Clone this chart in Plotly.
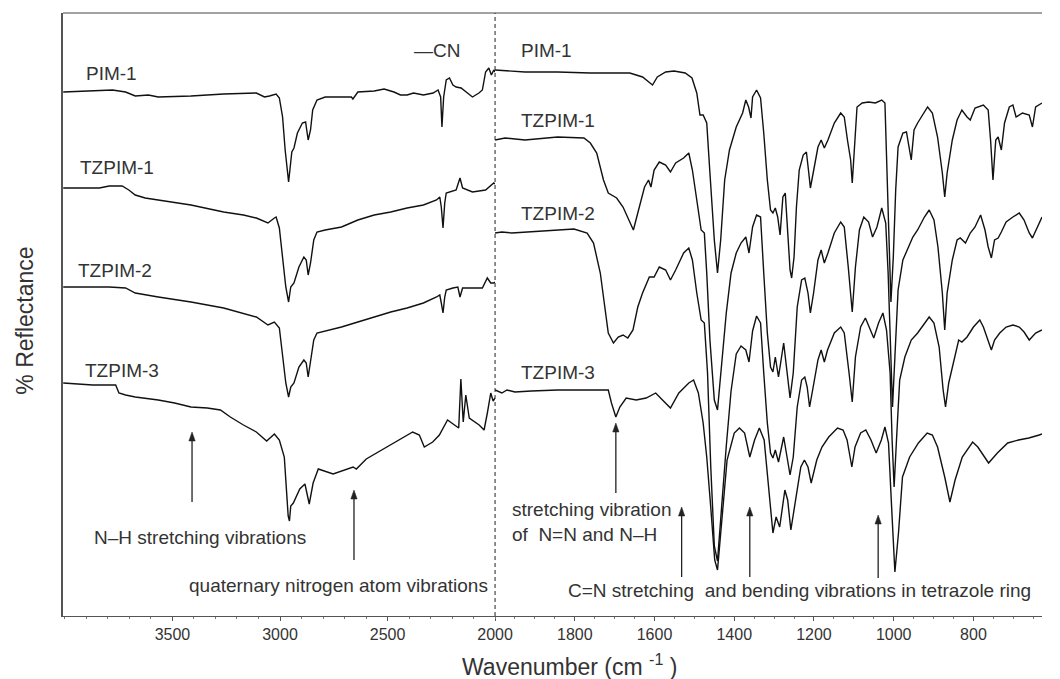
import plotly.graph_objects as go

# ---------------- data (wavenumber cm-1, reflectance with offsets) ----------------
PIM1_LEFT = [(4008,524),(3871,525),(3779,526),(3718,524),(3673,520),(3612,521),(3566,519),(3414,520),
             (3262,522),(3110,523),(3072,519),(3049,520),(3018,522),(3003,518),(2988,499),(2976,466),
             (2965,446),(2960,434),(2954,446),(2945,464),(2935,468),(2919,483),(2896,493),(2881,494),
             (2869,476),(2858,486),(2848,506),(2828,516),(2790,519),(2668,519),(2661,517),(2638,524),
             (2562,525),(2516,527),(2470,524),(2440,521),(2409,521),(2379,523),(2333,521),(2288,523),
             (2265,526),(2253,519),(2247,489),(2239,519),(2227,536),(2212,538),(2196,531),(2181,529),
             (2158,528),(2135,524),(2105,519),(2075,523),(2059,526),(2044,544),(2029,548),(2017,541),
             (2006,546),(2000,544)]
TZPIM1_LEFT = [(4008,428),(3840,428),(3794,430),(3734,430),(3703,426),(3673,421),(3627,418),(3566,416),
               (3414,411),(3262,404),(3170,401),(3110,398),(3056,393),(3026,398),(3018,399),(3003,388),
               (2988,360),(2973,329),(2960,314),(2950,329),(2935,333),(2912,349),(2889,359),(2878,356),
               (2869,341),(2858,353),(2843,376),(2828,384),(2790,386),(2714,389),(2638,396),(2562,401),
               (2485,404),(2409,408),(2333,411),(2272,416),(2257,419),(2250,409),(2242,388),(2234,413),
               (2227,423),(2181,426),(2163,438),(2151,428),(2105,424),(2044,426),(2006,433),(2000,432)]
TZPIM2_LEFT = [(4008,329),(3794,329),(3718,328),(3673,323),(3566,319),(3414,314),(3262,308),(3110,299),
               (3056,291),(3026,294),(3003,288),(2988,259),(2973,233),(2960,219),(2950,229),(2935,233),
               (2912,249),(2889,256),(2878,253),(2869,239),(2858,253),(2843,276),(2828,283),(2714,289),
               (2638,294),(2562,299),(2485,304),(2409,308),(2333,313),(2272,319),(2257,321),(2250,313),
               (2242,303),(2234,319),(2227,326),(2196,328),(2173,329),(2163,319),(2151,328),(2105,328),
               (2059,328),(2036,338),(2020,333),(2006,333),(2000,334)]
TZPIM3_LEFT = [(4008,233),(3871,231),(3764,231),(3749,223),(3718,221),(3673,219),(3566,216),(3490,213),
               (3414,209),(3338,208),(3277,206),(3231,199),(3170,191),(3110,184),(3062,175),(3026,182),
               (3003,176),(2980,159),(2962,100),(2956,95),(2950,110),(2938,113),(2908,127),(2884,132),
               (2864,112),(2846,133),(2822,147),(2753,142),(2660,149),(2645,147),(2599,157),(2521,167),
               (2444,177),(2383,184),(2352,181),(2329,169),(2290,174),(2259,181),(2221,196),(2189,191),
               (2169,188),(2159,237),(2148,194),(2136,221),(2120,198),(2074,191),(2051,186),(2035,204),
               (2020,223),(2009,215),(2000,218)]

PIM1_RIGHT = [(2000,546),(1925,544),(1843,544),(1761,543),(1662,543),(1630,539),(1605,531),(1593,539),
              (1572,544),(1551,545),(1523,543),(1506,538),(1494,523),(1486,501),(1478,501),(1469,493),
              (1461,443),(1450,376),(1442,343),(1434,376),(1424,436),(1412,466),(1395,489),(1379,503),
              (1371,516),(1364,509),(1358,498),(1354,519),(1344,526),(1334,518),(1326,483),(1317,436),
              (1309,406),(1303,403),(1297,408),(1291,399),(1285,381),(1278,419),(1272,423),(1267,389),
              (1260,346),(1256,338),(1250,359),(1244,409),(1237,446),(1227,461),(1219,464),(1213,443),
              (1209,428),(1202,443),(1190,469),(1182,476),(1174,468),(1165,476),(1149,493),(1133,503),
              (1124,499),(1116,476),(1108,456),(1104,433),(1097,476),(1092,509),(1079,513),(1063,514),
              (1046,513),(1030,516),(1022,513),(1017,443),(1012,359),(1007,314),(1001,359),(995,426),
              (989,469),(977,483),(968,484),(960,466),(956,456),(949,486),(940,493),(915,509),(903,503),
              (890,479),(878,443),(872,419),(866,443),(853,476),(841,496),(829,506),(816,499),(808,496),
              (796,508),(775,511),(763,506),(757,476),(751,436),(744,476),(738,479),(730,466),(722,493),
              (710,509),(701,511),(693,499),(677,503),(660,501),(652,489),(644,509),(628,513)]
TZPIM1_RIGHT = [(2000,476),(1975,478),(1925,476),(1843,479),(1777,478),(1761,473),(1745,463),(1728,436),
                (1716,423),(1695,418),(1679,409),(1662,393),(1653,386),(1642,403),(1625,429),(1615,436),
                (1609,429),(1601,446),(1588,454),(1572,451),(1560,444),(1547,453),(1527,458),(1514,463),
                (1505,446),(1494,416),(1483,386),(1475,383),(1469,343),(1461,276),(1450,216),(1442,206),
                (1432,249),(1420,303),(1408,343),(1395,363),(1383,373),(1371,379),(1363,363),(1354,389),
                (1344,401),(1334,399),(1326,343),(1317,283),(1309,249),(1303,244),(1297,259),(1289,239),
                (1276,273),(1267,243),(1260,218),(1252,243),(1242,309),(1231,336),(1223,338),(1215,323),
                (1209,303),(1201,323),(1190,356),(1182,366),(1174,353),(1165,363),(1149,383),(1133,394),
                (1124,389),(1114,349),(1104,304),(1096,349),(1086,386),(1075,399),(1063,394),(1053,379),
                (1042,389),(1030,408),(1020,393),(1014,343),(1007,259),(1003,209),(997,259),(989,326),
                (977,356),(964,369),(952,379),(940,386),(923,399),(911,406),(899,396),(889,369),(878,323),
                (872,286),(866,323),(853,356),(841,376),(833,378),(820,373),(808,383),(796,389),(782,401),
                (771,386),(763,369),(755,358),(747,376),(738,378),(730,384),(718,394),(701,399),(685,403),
                (673,396),(660,383),(652,378),(640,389),(628,399)]
TZPIM2_RIGHT = [(2000,383),(1983,384),(1958,383),(1884,385),(1802,387),(1769,383),(1753,373),(1736,343),
                (1724,309),(1716,283),(1703,273),(1691,279),(1679,281),(1667,278),(1654,286),(1642,309),
                (1630,323),(1613,339),(1601,339),(1588,349),(1572,346),(1560,336),(1547,346),(1527,363),
                (1514,368),(1505,356),(1494,323),(1483,296),(1475,293),(1467,243),(1459,150),(1450,70),
                (1442,55),(1432,110),(1420,170),(1408,225),(1395,262),(1383,270),(1371,266),(1363,254),
                (1354,285),(1344,300),(1334,293),(1326,243),(1317,193),(1309,163),(1303,158),(1297,166),
                (1289,154),(1276,179),(1267,159),(1260,141),(1252,159),(1242,209),(1231,236),(1223,239),
                (1217,229),(1211,209),(1202,229),(1190,256),(1182,266),(1174,254),(1166,266),(1149,283),
                (1133,289),(1124,283),(1112,243),(1104,214),(1096,259),(1083,289),(1071,298),(1059,286),
                (1050,278),(1038,293),(1027,303),(1018,286),(1009,243),(1004,176),(999,129),(993,176),
                (985,236),(972,259),(956,276),(940,283),(923,293),(911,299),(899,293),(886,269),(876,226),
                (870,209),(862,233),(849,256),(837,276),(829,274),(816,279),(800,289),(784,296),(775,289),
                (763,276),(755,266),(747,276),(734,283),(718,289),(701,291),(685,289),(673,284),(660,276),
                (644,283),(628,286)]
TZPIM3_RIGHT = [(2000,226),(1983,223),(1970,226),(1950,224),(1909,225),(1843,226),(1716,226),(1708,213),
                (1697,199),(1687,209),(1671,218),(1646,216),(1621,218),(1597,223),(1580,216),(1560,208),
                (1539,223),(1514,233),(1502,236),(1490,223),(1478,193),(1469,159),(1459,109),(1449,56),
                (1442,46),(1431,99),(1418,156),(1400,183),(1387,188),(1374,183),(1361,159),(1349,176),
                (1337,188),(1325,176),(1312,116),(1303,83),(1295,99),(1286,89),(1273,126),(1266,116),
                (1258,86),(1246,116),(1233,149),(1224,156),(1215,149),(1207,133),(1193,156),(1180,169),
                (1163,179),(1141,188),(1127,186),(1117,176),(1105,149),(1097,169),(1083,183),(1070,186),
                (1057,176),(1044,163),(1031,176),(1022,189),(1013,173),(1004,99),(997,44),(988,83),
                (978,139),(960,159),(938,173),(916,183),(903,181),(890,169),(872,139),(859,114),(846,136),
                (828,159),(811,169),(802,174),(789,169),(771,159),(762,153),(740,163),(714,173),(687,176),
                (661,178),(635,181),(628,182)]

SERIES = [("PIM-1", PIM1_LEFT, PIM1_RIGHT),
          ("TZPIM-1", TZPIM1_LEFT, TZPIM1_RIGHT),
          ("TZPIM-2", TZPIM2_LEFT, TZPIM2_RIGHT),
          ("TZPIM-3", TZPIM3_LEFT, TZPIM3_RIGHT)]

LEFT_TICKS = [3500, 3000, 2500, 2000]
RIGHT_TICKS = [1800, 1600, 1400, 1200, 1000, 800]

# ---------------- figure ----------------
FONT = "Liberation Sans, Arial, sans-serif"
LINE = dict(color="#111111", width=1.4)
SPLIT = 440 / 997
LEFT_RANGE = [4009, 2000]
RIGHT_RANGE = [2000, 628]

fig = go.Figure()
for name, left, right in SERIES:
    fig.add_trace(go.Scatter(x=[p[0] for p in left], y=[p[1] for p in left], mode="lines",
                             line=LINE, name=name, xaxis="x", yaxis="y", hoverinfo="skip"))
    fig.add_trace(go.Scatter(x=[p[0] for p in right], y=[p[1] for p in right], mode="lines",
                             line=LINE, name=name, xaxis="x2", yaxis="y", hoverinfo="skip"))

axis_common = dict(showgrid=False, zeroline=False, showline=True, linecolor="#555", linewidth=1,
                   ticks="outside", ticklen=4, tickcolor="#555",
                   tickfont=dict(family=FONT, size=16, color="#333"))

fig.update_layout(
    width=1060, height=679,
    margin=dict(l=63, r=0, t=13, b=63),
    plot_bgcolor="white", paper_bgcolor="white", showlegend=False,
    xaxis=dict(domain=[0, SPLIT], range=LEFT_RANGE, tickmode="array", tickvals=LEFT_TICKS,
               minor=dict(tickmode="linear", tick0=0, dtick=100, ticks="outside", ticklen=2, tickcolor="#777"),
               anchor="y", **axis_common),
    xaxis2=dict(domain=[SPLIT, 1], range=RIGHT_RANGE, tickmode="array", tickvals=RIGHT_TICKS,
                minor=dict(tickmode="linear", tick0=0, dtick=50, ticks="outside", ticklen=2, tickcolor="#777"),
                anchor="y", **axis_common),
    yaxis=dict(range=[0, 603], showticklabels=False, ticks="", showgrid=False, zeroline=False,
               showline=True, linecolor="#555", linewidth=1.6),
)

# frame top and dashed divider
fig.add_shape(type="line", xref="paper", yref="paper", x0=0, x1=1, y0=1, y1=1,
              line=dict(color="#444", width=1))
fig.add_shape(type="line", xref="paper", yref="paper", x0=SPLIT, x1=SPLIT, y0=0, y1=1,
              line=dict(color="#222", width=1, dash="4px,3px"))

TXT = dict(family=FONT, size=19, color="#333")
labels = [
    ("x", 3913, 543, "PIM-1"), ("x", 3941, 449, "TZPIM-1"), ("x", 3950, 346, "TZPIM-2"),
    ("x", 3918, 246, "TZPIM-3"), ("x", 2388, 566, "\u2014CN"),
    ("x2", 1941, 566, "PIM-1"), ("x2", 1941, 496, "TZPIM-1"), ("x2", 1941, 403, "TZPIM-2"),
    ("x2", 1941, 244, "TZPIM-3"),
]
for xr, xv, yv, t in labels:
    fig.add_annotation(xref=xr, yref="y", x=xv, y=yv, text=t, showarrow=False,
                       xanchor="left", yanchor="middle", font=TXT)

fig.add_annotation(xref="x", yref="y", x=3374, y=79, text="N\u2013H stretching vibrations",
                   showarrow=False, xanchor="center", yanchor="middle", font=TXT)
fig.add_annotation(xref="x", yref="y", x=2726, y=31, text="quaternary nitrogen atom vibrations",
                   showarrow=False, xanchor="center", yanchor="middle", font=TXT)
fig.add_annotation(xref="x2", yref="y", x=1963, y=94,
                   text="stretching vibration<br>of \u00a0N=N and N\u2013H", align="left",
                   showarrow=False, xanchor="left", yanchor="middle", font=TXT)
fig.add_annotation(xref="x2", yref="y", x=1823, y=26,
                   text="C=N stretching \u00a0and bending vibrations in tetrazole ring",
                   showarrow=False, xanchor="left", yanchor="middle", font=TXT)

# vertical arrows (shaft + filled head), drawn as shapes
PX_PER_UNIT = {"x": 440 / (LEFT_RANGE[0] - LEFT_RANGE[1]), "x2": 557 / (RIGHT_RANGE[0] - RIGHT_RANGE[1])}
arrows = [("x", 3409, 114, 184), ("x", 2656, 56, 126), ("x2", 1697, 123, 193),
          ("x2", 1532, 39, 109), ("x2", 1361, 39, 109), ("x2", 1039, 38, 101)]
for xr, xv, y0, y1 in arrows:
    hw = 3.2 / PX_PER_UNIT[xr]   # half width of head, in data units
    hh = 9                        # head height (y units == px)
    fig.add_shape(type="line", xref=xr, yref="y", x0=xv, x1=xv, y0=y0, y1=y1 - hh + 1,
                  line=dict(color="#222", width=1.3))
    fig.add_shape(type="path", xref=xr, yref="y",
                  path=f"M {xv - hw} {y1 - hh} L {xv + hw} {y1 - hh} L {xv} {y1} Z",
                  fillcolor="#222", line=dict(color="#222", width=0.5))

fig.add_annotation(xref="paper", yref="paper", x=(579 - 63) / 997, y=(616 - 665) / 603,
                   text="Wavenumber (cm <sup>-1</sup> )", showarrow=False,
                   xanchor="center", yanchor="middle", font=dict(family=FONT, size=23, color="#333"))
fig.add_annotation(xref="paper", yref="paper", x=(24 - 63) / 997, y=(616 - 321) / 603,
                   text="% Reflectance", textangle=-90, showarrow=False,
                   xanchor="center", yanchor="middle", font=dict(family=FONT, size=23, color="#333"))

fig.write_html("out.html")
